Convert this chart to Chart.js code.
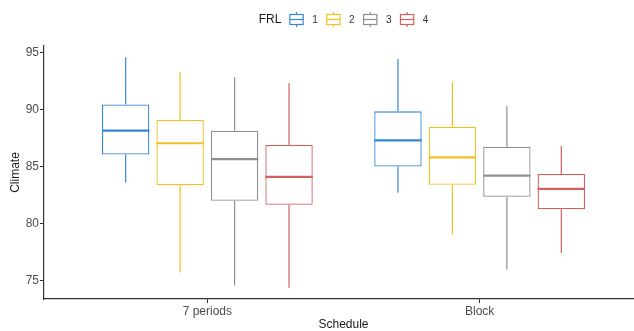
<!DOCTYPE html>
<html>
<head>
<meta charset="utf-8">
<script src="https://cdn.jsdelivr.net/npm/chart.js@4.4.0/dist/chart.umd.min.js"></script>
<style>
html, body { margin: 0; padding: 0; overflow: hidden; background: #fff; }
#wrap { width: 644px; height: 331px; }
</style>
</head>
<body>
<div id="wrap"><canvas id="box-chart"></canvas></div>
<script>
var schedules = ['7 periods', 'Block'];
var frlLevels = ['1', '2', '3', '4'];
var frlColors = ['#3587d6', '#efc11f', '#8f8f8f', '#d3605c'];
var yTicks = [75, 80, 85, 90, 95];

// one row per FRL level, one column per schedule
var whiskerLow  = [[83.6, 82.7], [75.7, 79.05], [74.55, 75.95], [74.35, 77.4]];
var boxLow      = [[86.05, 85.0], [83.35, 83.4], [82.0, 82.35], [81.65, 81.25]];
var medians     = [[88.15, 87.3], [87.05, 85.8], [85.65, 84.2], [84.1, 83.05]];
var boxHigh     = [[90.45, 89.85], [89.1, 88.5], [88.15, 86.75], [86.9, 84.35]];
var whiskerHigh = [[94.6, 94.45], [93.3, 92.45], [92.85, 90.3], [92.35, 86.8]];

var FONT = '"Liberation Sans", Arial, sans-serif';

// whiskers and median lines on top of the floating bars
var boxWhiskers = {
  id: 'boxWhiskers',
  afterDatasetsDraw: function (chart) {
    var ctx = chart.ctx, y = chart.scales.y;
    chart.data.datasets.forEach(function (ds, i) {
      chart.getDatasetMeta(i).data.forEach(function (bar, j) {
        var top = Math.min(bar.y, bar.base), bottom = Math.max(bar.y, bar.base);
        ctx.save();
        ctx.strokeStyle = frlColors[i];
        ctx.lineWidth = 1.2;
        ctx.beginPath();
        ctx.moveTo(bar.x, top);
        ctx.lineTo(bar.x, y.getPixelForValue(whiskerHigh[i][j]));
        ctx.moveTo(bar.x, bottom);
        ctx.lineTo(bar.x, y.getPixelForValue(whiskerLow[i][j]));
        ctx.stroke();
        var m = y.getPixelForValue(medians[i][j]);
        ctx.lineWidth = 2.2;
        ctx.beginPath();
        ctx.moveTo(bar.x - bar.width / 2, m);
        ctx.lineTo(bar.x + bar.width / 2, m);
        ctx.stroke();
        ctx.restore();
      });
    });
  }
};

// legend row: "FRL" then a little boxplot glyph per level
var frlLegend = {
  id: 'frlLegend',
  afterDraw: function (chart) {
    var ctx = chart.ctx, area = chart.chartArea;
    var cy = 19.5, iconW = 13.3;
    ctx.save();
    ctx.font = '12px ' + FONT;
    var titleW = ctx.measureText('FRL').width;
    ctx.font = '10px ' + FONT;
    var total = titleW + 8.5;
    frlLevels.forEach(function (l, i) {
      total += iconW + 9 + ctx.measureText(l).width + (i < frlLevels.length - 1 ? 9 : 0);
    });
    var x = (area.left + area.right) / 2 - total / 2;
    ctx.textBaseline = 'middle';
    ctx.textAlign = 'left';
    ctx.fillStyle = '#1a1a1a';
    ctx.font = '12px ' + FONT;
    ctx.fillText('FRL', x, cy);
    x += titleW + 8.5;
    ctx.font = '10px ' + FONT;
    frlLevels.forEach(function (l, i) {
      var cx = x + iconW / 2;
      ctx.strokeStyle = frlColors[i];
      ctx.lineWidth = 1.2;
      ctx.beginPath();
      ctx.moveTo(cx, cy - 7.5); ctx.lineTo(cx, cy - 5);
      ctx.moveTo(cx, cy + 5); ctx.lineTo(cx, cy + 7.5);
      ctx.stroke();
      ctx.strokeRect(x, cy - 5, iconW, 10);
      ctx.beginPath();
      ctx.moveTo(x, cy); ctx.lineTo(x + iconW, cy);
      ctx.stroke();
      x += iconW + 9;
      ctx.fillStyle = '#333';
      ctx.fillText(l, x, cy + 0.5);
      x += ctx.measureText(l).width + 9;
    });
    ctx.restore();
  }
};

var datasets = frlLevels.map(function (lvl, i) {
  return {
    label: lvl,
    data: schedules.map(function (s, j) {
      return { x: j + 1, y: [boxLow[i][j], boxHigh[i][j]] };
    }),
    backgroundColor: '#ffffff',
    borderColor: frlColors[i],
    borderWidth: 1.3,
    borderSkipped: false,
    categoryPercentage: 0.8,
    barPercentage: 0.87
  };
});

new Chart(document.getElementById('box-chart'), {
  type: 'bar',
  data: { datasets: datasets },
  options: {
    responsive: true,
    maintainAspectRatio: false,
    animation: false,
    layout: { padding: { top: 46, right: 1, left: 0, bottom: 0 } },
    plugins: { legend: { display: false }, tooltip: { enabled: false } },
    scales: {
      x: {
        type: 'linear',
        offset: false,
        min: 0.4,
        max: 2.6,
        afterBuildTicks: function (scale) {
          scale.ticks = schedules.map(function (s, j) { return { value: j + 1 }; });
        },
        afterFit: function (scale) { scale.height = 32; },
        ticks: {
          callback: function (value) { return schedules[value - 1]; },
          font: { size: 12, family: FONT },
          color: '#4d4d4d',
          padding: 1,
          maxRotation: 0,
          autoSkip: false
        },
        grid: { offset: false, drawOnChartArea: false, tickLength: 4, tickColor: '#333', tickWidth: 1 },
        border: { color: '#333', width: 1.2 },
        title: {
          display: true,
          text: 'Schedule',
          color: '#1a1a1a',
          font: { size: 12, family: FONT, lineHeight: 1 },
          padding: 0
        }
      },
      y: {
        min: 73.37,
        max: 95.59,
        afterBuildTicks: function (scale) {
          scale.ticks = yTicks.map(function (v) { return { value: v }; });
        },
        afterFit: function (scale) { scale.width = 44; },
        ticks: {
          font: { size: 12, family: FONT },
          color: '#4d4d4d',
          padding: 1
        },
        grid: { drawOnChartArea: false, tickLength: 4, tickColor: '#333', tickWidth: 1 },
        border: { color: '#333', width: 1.2 },
        title: {
          display: true,
          text: 'Climate',
          color: '#1a1a1a',
          font: { size: 12, family: FONT },
          padding: { top: 8, bottom: 0 }
        }
      }
    }
  },
  plugins: [boxWhiskers, frlLegend]
});
</script>
</body>
</html>
